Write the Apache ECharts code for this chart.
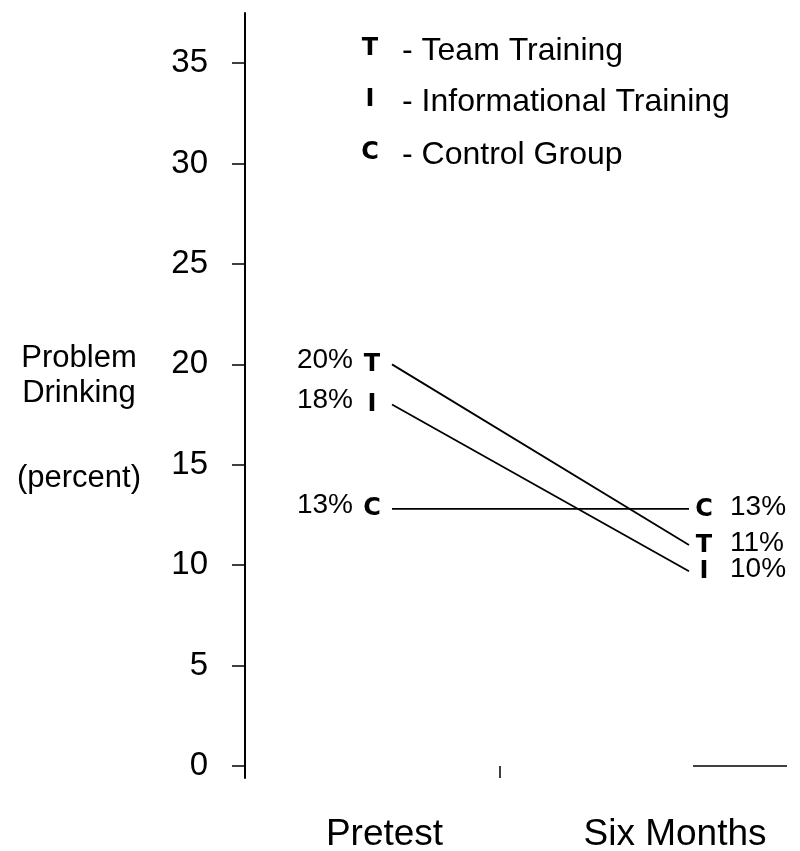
<!DOCTYPE html>
<html>
<head>
<meta charset="utf-8">
<script src="https://cdn.jsdelivr.net/npm/echarts@6/dist/echarts.min.js"></script>
<style>
  html, body { margin: 0; padding: 0; background: #fff; }
  #chart { width: 800px; height: 851px; }
</style>
</head>
<body>
<div id="chart"></div>
<script>
// data
var groups = ['T', 'I', 'C'];
var groupNames = ['Team Training', 'Informational Training', 'Control Group'];
var periods = ['Pretest', 'Six Months'];
var pretest = [20, 18, 12.8];
var sixMonths = [11, 9.7, 12.8];
var pretestLabels = ['20%', '18%', '13%'];
var sixMonthLabels = ['11%', '10%', '13%'];
var yTicks = [0, 5, 10, 15, 20, 25, 30, 35];

(function() {
  var ink = '#000';
  var textFont = '"Liberation Sans", Arial, sans-serif';
  var markFont = 'bold 24px "DejaVu Sans", sans-serif';
  var chart = echarts.init(document.getElementById('chart'), null, { renderer: 'canvas' });

  function renderGroup(params, api) {
    var i = params.dataIndex;
    var p0 = api.coord([0, api.value(0)]);
    var p1 = api.coord([1, api.value(1)]);
    return {
      type: 'group',
      children: [
        {
          type: 'line',
          shape: { x1: p0[0] + 20, y1: p0[1], x2: p1[0] - 15, y2: p1[1] },
          style: { stroke: ink, lineWidth: 1.8 }
        },
        {
          type: 'text', x: p0[0], y: p0[1],
          style: { text: groups[i], font: markFont, fill: ink, align: 'center', verticalAlign: 'middle' }
        },
        {
          type: 'text', x: p1[0], y: p1[1] + 1,
          style: { text: groups[i], font: markFont, fill: ink, align: 'center', verticalAlign: 'middle' }
        },
        {
          type: 'text', x: p0[0] - 19, y: p0[1] - 4,
          style: { text: pretestLabels[i], fontSize: 28, fontFamily: textFont, fill: ink, align: 'right', verticalAlign: 'middle' }
        },
        {
          type: 'text', x: p1[0] + 26, y: p1[1] - 2,
          style: { text: sixMonthLabels[i], fontSize: 28, fontFamily: textFont, fill: ink, align: 'left', verticalAlign: 'middle' }
        }
      ]
    };
  }

  // legend block built from the group arrays
  var legendRows = [51, 102, 155];
  var graphics = [];
  groups.forEach(function(g, i) {
    graphics.push({
      type: 'text', x: 370, y: legendRows[i] - 2,
      style: { text: g, font: markFont, fill: ink, align: 'center', verticalAlign: 'middle' }
    });
    graphics.push({
      type: 'text', x: 402, y: legendRows[i],
      style: { text: '- ' + groupNames[i], fontSize: 32, fontFamily: textFont, fill: ink, align: 'left', verticalAlign: 'middle' }
    });
  });
  // y axis title
  [['Problem', 358], ['Drinking', 393], ['(percent)', 478]].forEach(function(t) {
    graphics.push({
      type: 'text', x: 79, y: t[1],
      style: { text: t[0], fontSize: 31, fontFamily: textFont, fill: ink, align: 'center', verticalAlign: 'middle' }
    });
  });

  chart.setOption({
    animation: false,
    grid: { left: 245, right: 13, top: 13, bottom: 73, containLabel: false, outerBoundsMode: 'none' },
    xAxis: {
      type: 'value',
      min: -0.3825,
      max: 1.25,
      splitLine: { show: false },
      axisLine: { show: false, onZero: true },
      axisTick: { show: true, customValues: [0.3855], length: 12, lineStyle: { color: ink, width: 1.5 } },
      axisLabel: {
        customValues: [0, 1],
        margin: 38,
        color: ink,
        fontSize: 37,
        fontFamily: textFont,
        formatter: function(v) { return v === 0 ? '{a|' + periods[0] + '}' : '{b|' + periods[1] + '}'; },
        rich: {
          a: { fontSize: 37, fontFamily: textFont, color: ink, padding: [0, 0, 0, 25] },
          b: { fontSize: 37, fontFamily: textFont, color: ink, padding: [0, 58, 0, 0] }
        }
      }
    },
    yAxis: {
      type: 'value',
      min: -0.6,
      max: 37.5,
      splitLine: { show: false },
      axisLine: { show: true, onZero: false, lineStyle: { color: ink, width: 2 } },
      axisTick: { show: true, customValues: yTicks, length: 13, lineStyle: { color: ink, width: 1.5 } },
      axisLabel: { customValues: yTicks, margin: 37, color: ink, fontSize: 33, fontFamily: textFont }
    },
    graphic: graphics,
    series: [{
      type: 'custom',
      renderItem: renderGroup,
      data: groups.map(function(g, i) { return [pretest[i], sixMonths[i]]; }),
      encode: { x: -1, y: [0, 1] },
      markLine: {
        silent: true,
        symbol: 'none',
        label: { show: false },
        lineStyle: { color: ink, width: 1.5, type: 'solid' },
        data: [[{ coord: [0.967, 0] }, { coord: [1.25, 0] }]]
      }
    }]
  });

  window.addEventListener('resize', function() { chart.resize(); });
})();
</script>
</body>
</html>
